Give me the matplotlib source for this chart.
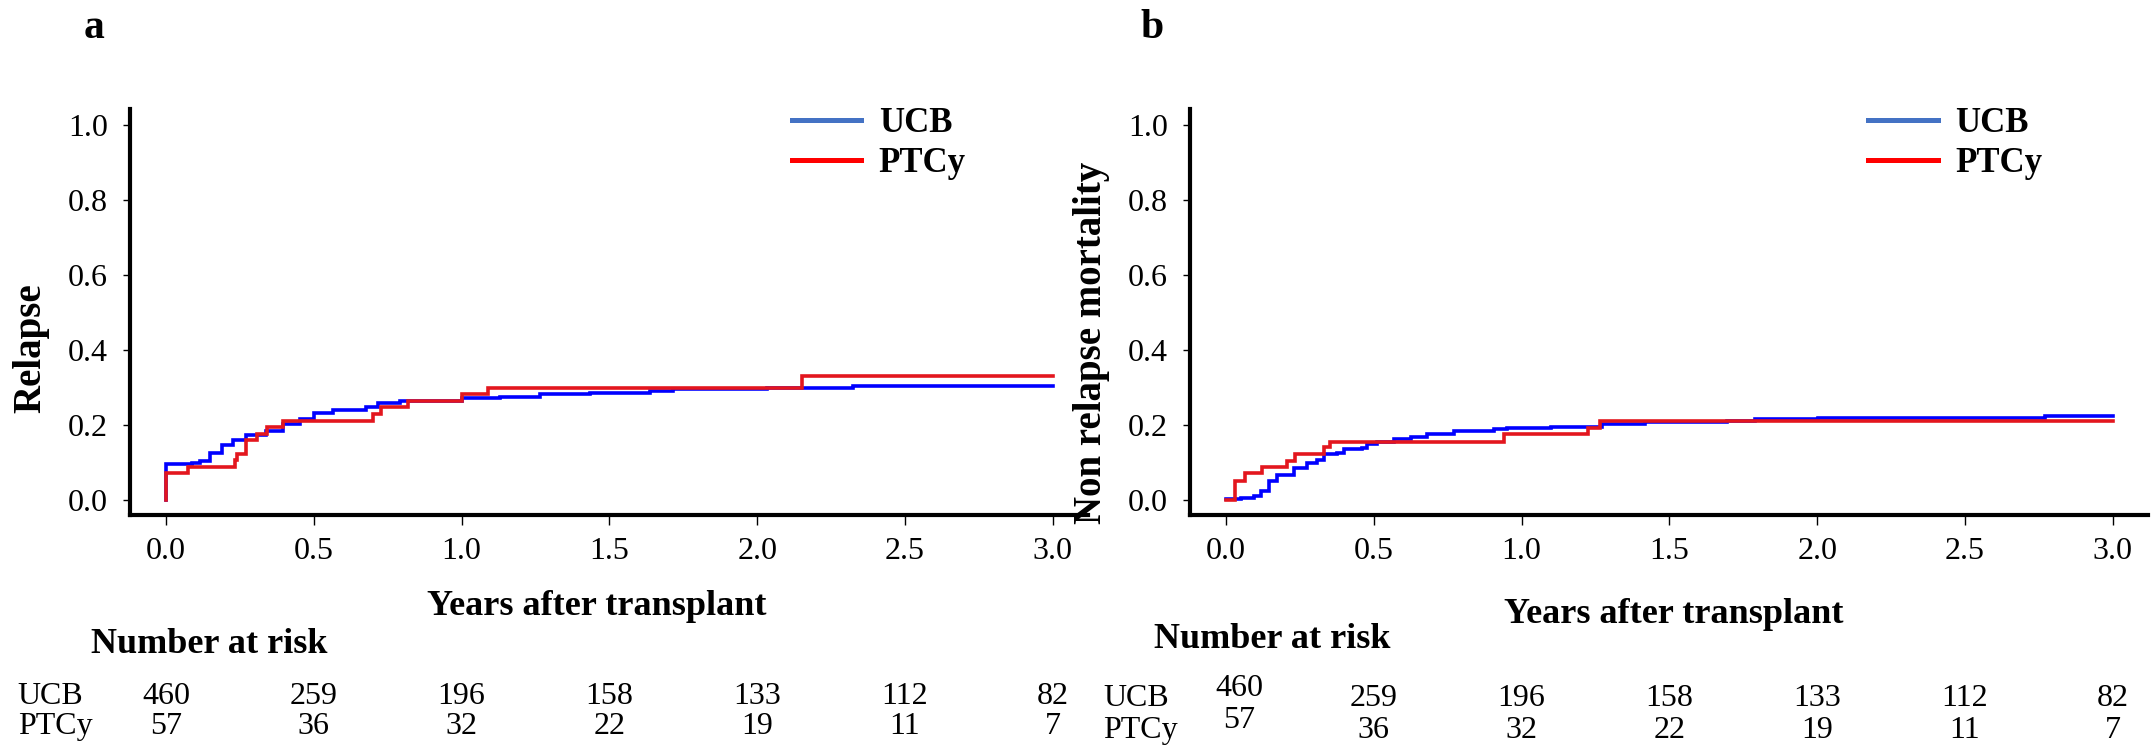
import numpy as np
import matplotlib
matplotlib.use("Agg")
import matplotlib.pyplot as plt
from matplotlib.lines import Line2D
import matplotlib.transforms as mtransforms

plt.rcParams['font.family'] = ['Liberation Serif', 'DejaVu Serif']

# -- data -- #
groups = ['UCB', 'PTCy']

# panel a: relapse
rel_ucb_t = [0, 0, 0.087, 0.115, 0.149, 0.188, 0.228, 0.27, 0.34, 0.397, 0.453, 0.5, 0.565,
             0.678, 0.717, 0.791, 1.0, 1.13, 1.265, 1.434, 1.637, 1.715, 2.032, 2.325, 3.0]
rel_ucb_y = [0, 0.097, 0.100, 0.106, 0.126, 0.148, 0.160, 0.175, 0.186, 0.204, 0.217, 0.232, 0.240,
             0.249, 0.259, 0.266, 0.274, 0.277, 0.283, 0.287, 0.293, 0.296, 0.300, 0.305, 0.305]
rel_ptcy_t = [0, 0, 0.075, 0.233, 0.24, 0.27, 0.307, 0.343, 0.395, 0.702, 0.726, 0.82, 1.0, 1.09, 2.15, 3.0]
rel_ptcy_y = [0, 0.0725, 0.09, 0.108, 0.124, 0.16, 0.178, 0.195, 0.211, 0.230, 0.248, 0.265, 0.283,
              0.300, 0.332, 0.332]

# panel b: non relapse mortality
nrm_ucb_t = [0, 0.05, 0.094, 0.117, 0.145, 0.172, 0.229, 0.275, 0.309, 0.332, 0.376, 0.399, 0.461,
             0.478, 0.512, 0.568, 0.625, 0.681, 0.772, 0.907, 0.952, 1.099, 1.272, 1.418, 1.696,
             1.788, 2.003, 2.771, 3.0]
nrm_ucb_y = [0.003, 0.006, 0.013, 0.025, 0.051, 0.069, 0.087, 0.100, 0.109, 0.123, 0.127, 0.136, 0.139,
             0.151, 0.155, 0.164, 0.170, 0.176, 0.185, 0.191, 0.194, 0.197, 0.203, 0.209, 0.211,
             0.216, 0.220, 0.226, 0.226]
nrm_ptcy_t = [0, 0.032, 0.065, 0.122, 0.207, 0.235, 0.331, 0.351, 0.941, 1.225, 1.264, 3.0]
nrm_ptcy_y = [0, 0.052, 0.072, 0.089, 0.105, 0.123, 0.142, 0.156, 0.176, 0.194, 0.211, 0.211]

# number at risk (same table under both panels)
risk_times = [0, 0.5, 1.0, 1.5, 2.0, 2.5, 3.0]
risk_ucb = [460, 259, 196, 158, 133, 112, 82]
risk_ptcy = [57, 36, 32, 22, 19, 11, 7]

xticks = [0.0, 0.5, 1.0, 1.5, 2.0, 2.5, 3.0]
yticks = [0.0, 0.2, 0.4, 0.6, 0.8, 1.0]

line_colors = ['#0000FF', '#E3161E']
legend_colors = ['#4472C4', '#FF0000']


fig = plt.figure(figsize=(21.51, 7.49), dpi=100)
ax_a = fig.add_axes([0.0604, 0.3124, 0.4454, 0.5421])
ax_b = fig.add_axes([0.5532, 0.3124, 0.4454, 0.5421])


def draw_panel(ax, curves, ylabel, ylab_pos, xlab_pos, leg_x, risk_y, nar_x, row_x, first_nudge):
    for (t, y), c in zip(curves, line_colors):
        ax.step(t, y, where='post', color=c, lw=2.6, solid_joinstyle='miter')

    ax.set_xlim(-0.122, 3.119)
    ax.set_ylim(-0.0387, 1.044)
    ax.set_xticks(xticks)
    ax.set_yticks(yticks)
    ax.set_xticklabels([f'{v:.1f}' for v in xticks])
    ax.set_yticklabels([f'{v:.1f}' for v in yticks])
    ax.tick_params(axis='x', length=7, width=1, pad=9, labelsize=23)
    ax.tick_params(axis='y', length=5, width=1, pad=11, labelsize=23)

    for s in ['top', 'right']:
        ax.spines[s].set_visible(False)
    for s in ['left', 'bottom']:
        ax.spines[s].set_linewidth(3)

    ax.set_xlabel('Years after transplant', fontsize=26, fontweight='bold')
    ax.xaxis.set_label_coords(xlab_pos[0], xlab_pos[1])
    ax.set_ylabel(ylabel, fontsize=28, fontweight='bold')
    ax.yaxis.set_label_coords(ylab_pos[0], ylab_pos[1])

    handles = [Line2D([], [], color=c, lw=3.6) for c in legend_colors]
    ax.legend(handles, groups, loc='upper left', bbox_to_anchor=(leg_x, 1.005),
              frameon=False, borderpad=0, borderaxespad=0, handlelength=2.0,
              handletextpad=0.5, labelspacing=0.2,
              prop={'family': 'Liberation Serif', 'weight': 'bold', 'size': 25})

    # number at risk table
    tr = mtransforms.blended_transform_factory(ax.transData, ax.transAxes)
    ax.text(nar_x, risk_y[0], 'Number at risk', transform=ax.transAxes, fontsize=26,
            fontweight='bold', ha='left', va='baseline')
    for row, (name, vals) in enumerate(zip(groups, [risk_ucb, risk_ptcy])):
        yy = risk_y[1 + row]
        ax.text(row_x, yy, name, transform=ax.transAxes, fontsize=23, ha='left', va='baseline')
        for i, (tt, v) in enumerate(zip(risk_times, vals)):
            dx, dy = first_nudge if i == 0 else (0, 0)
            ax.text(tt + dx, yy + dy, str(v), transform=tr, fontsize=23,
                    ha='center', va='baseline', clip_on=False)


draw_panel(ax_a, [(rel_ucb_t, rel_ucb_y), (rel_ptcy_t, rel_ptcy_y)], 'Relapse',
           (-0.084, 0.411), (0.4875, -0.185), 0.691, (-0.340, -0.4655, -0.5395),
           -0.041, -0.117, (0, 0))
draw_panel(ax_b, [(nrm_ucb_t, nrm_ucb_y), (nrm_ptcy_t, nrm_ptcy_y)], 'Non relapse mortality',
           (-0.083, 0.424), (0.505, -0.205), 0.708, (-0.327, -0.47, -0.55),
           -0.0376, -0.0905, (0.044, 0.025))

fig.text(94 / 2151, 1 - 38 / 749, 'a', fontsize=30, fontweight='bold', ha='center', va='baseline')
fig.text(1152 / 2151, 1 - 38 / 749, 'b', fontsize=30, fontweight='bold', ha='center', va='baseline')

fig.savefig('out.png', dpi=100)
